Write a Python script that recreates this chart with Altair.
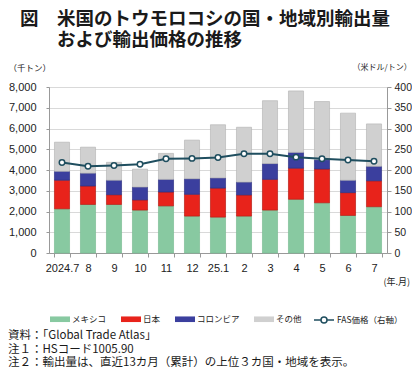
import altair as alt
import pandas as pd

months = ["2024.7", "8", "9", "10", "11", "12", "25.1", "2", "3", "4", "5", "6", "7"]
countries = ["メキシコ", "日本", "コロンビア", "その他"]
mexico = [2130, 2340, 2340, 2070, 2270, 1780, 1730, 1780, 2070, 2590, 2420, 1810, 2230]
japan = [1380, 890, 470, 490, 670, 1050, 1400, 1020, 1480, 1500, 1630, 1100, 1250]
colombia = [430, 620, 700, 620, 610, 750, 490, 620, 760, 760, 450, 600, 700]
other = [1400, 1250, 860, 860, 1250, 1860, 2560, 2640, 3030, 2960, 2800, 3230, 2040]
fas_price = [218, 209, 211, 214, 227, 228, 230, 239, 239, 231, 227, 224, 221]

title_lines = ["図　米国のトウモロコシの国・地域別輸出量", "および輸出価格の推移"]
notes = ["資料：「Global Trade Atlas」", "注１：HSコード1005.90",
         "注２：輸出量は、直近13カ月（累計）の上位３カ国・地域を表示。"]
price_label = "FAS価格（右軸）"

fill_colors = ["#88c9a1", "#e8231b", "#3b3f9e", "#d0d0d0"]
stroke_colors = ["#7bbd95", "#b81c14", "#2e3182", "#b8b8b8"]

rows = []
for i, m in enumerate(months):
    for k, (c, vals) in enumerate(zip(countries, [mexico, japan, colombia, other])):
        rows.append({"月": m, "国": c, "量": vals[i], "順": k})
bars_df = pd.DataFrame(rows)
line_df = pd.DataFrame({"月": months, "価格": fas_price, "系列": [price_label] * len(months)})

FONT = "Noto Sans CJK JP"
NUM = "Liberation Sans"

xenc = alt.X("月:N", sort=months,
             scale=alt.Scale(paddingInner=0.42, paddingOuter=0.21),
             axis=alt.Axis(title="(年.月)", titleAngle=0, titleAlign="left", titleBaseline="middle",
                           titleX=334, titleY=28, titleFont=FONT, titleFontSize=9, titleFontWeight="normal",
                           titleColor="#222", labelAngle=0, labelFont=NUM, labelFontSize=11,
                           labelColor="#222", labelPadding=5, tickBand="extent", tickSize=4,
                           tickColor="#999", domainColor="#999", grid=False))

bars = alt.Chart(bars_df).mark_bar(strokeWidth=0.7).encode(
    x=xenc,
    y=alt.Y("量:Q", stack="zero", scale=alt.Scale(domain=[0, 8000]),
            axis=alt.Axis(values=list(range(0, 8001, 1000)), format=",d", title="（千トン）",
                          titleAngle=0, titleAlign="left", titleBaseline="middle", titleX=-41,
                          titleY=-20, titleFont=FONT, titleFontSize=8.5, titleFontWeight="normal",
                          titleColor="#222", labelFont=NUM, labelFontSize=11, labelColor="#222",
                          labelPadding=10, tickSize=3, tickColor="#999", domainColor="#999",
                          gridColor="#d9d9d9")),
    fill=alt.Fill("国:N", scale=alt.Scale(domain=countries, range=fill_colors),
                  legend=alt.Legend(title=None, orient="none", legendX=1, legendY=222,
                                    direction="horizontal", columns=4, columnPadding=14,
                                    symbolType="M-1,-0.28H1V0.28H-1Z", symbolSize=400,
                                    symbolStrokeWidth=0, labelFont=FONT, labelFontSize=8.5,
                                    labelColor="#222", labelOffset=2)),
    stroke=alt.Stroke("国:N", scale=alt.Scale(domain=countries, range=stroke_colors), legend=None),
    order=alt.Order("順:Q", sort="ascending"),
)

line = alt.Chart(line_df).mark_line(strokeWidth=2, point=alt.OverlayMarkDef(
    filled=True, fill="white", stroke="#1f4e5f", strokeWidth=1.5, size=30)).encode(
    x=alt.X("月:N", sort=months),
    y=alt.Y("価格:Q", scale=alt.Scale(domain=[0, 400]),
            axis=alt.Axis(orient="right", values=list(range(0, 401, 50)), title="（米ドル/トン）",
                          titleAngle=0, titleAlign="left", titleBaseline="middle", titleX=-35,
                          titleY=-20, titleFont=FONT, titleFontSize=8, titleFontWeight="normal",
                          titleColor="#222", labelFont=NUM, labelFontSize=10.5, labelColor="#222",
                          labelPadding=3, tickSize=4, tickColor="#999", domainColor="#999",
                          grid=False)),
    stroke=alt.Stroke("系列:N", scale=alt.Scale(domain=[price_label], range=["#1f4e5f"]),
                      legend=alt.Legend(title=None, orient="none", legendX=264, legendY=222,
                                        symbolType="M-1,0H-0.3M0.3,0H1M-0.3,0A0.3,0.3 0 1,0 0.3,0A0.3,0.3 0 1,0 -0.3,0Z",
                                        symbolSize=400, symbolFillColor="white", symbolStrokeWidth=1.5,
                                        labelFont=FONT, labelFontSize=8.5, labelColor="#222",
                                        labelOffset=2)),
)

def text_layer(txt, x, y, size, weight="normal"):
    return alt.Chart(pd.DataFrame({"t": [txt]})).mark_text(
        align="left", baseline="middle", font=FONT, fontSize=size, fontWeight=weight, color="#1a1a1a"
    ).encode(text="t:N", x=alt.value(x), y=alt.value(y))

texts = [
    text_layer(title_lines[0], -29, -68.5, 18.5, "bold"),
    text_layer(title_lines[1], 8, -47, 18.5, "bold"),
    text_layer(notes[0], -41, 249, 11.5),
    text_layer(notes[1], -41, 263, 11.5),
    text_layer(notes[2], -41, 276, 11.5),
]

chart = alt.layer(bars, line, *texts).resolve_scale(
    y="independent", stroke="independent"
).properties(
    width=338, height=166,
    autosize=alt.AutoSizeParams(type="none"),
    padding={"left": 41, "top": 79, "right": 25, "bottom": 117},
).configure_view(stroke=None).configure(background="white")

chart.save("out.html", embed_options={"renderer": "svg", "actions": False})
